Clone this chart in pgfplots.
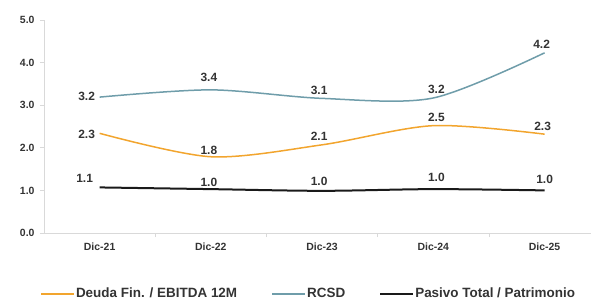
\documentclass[border=0pt]{standalone}
\usepackage{fontspec}
\setmainfont{Liberation Sans}
\usepackage{pgfplots}
\usepackage{pgfplotstable}
\pgfplotsset{compat=1.18}
\definecolor{cDeuda}{HTML}{F2A52E}
\definecolor{cRCSD}{HTML}{6F9DAA}
\definecolor{cPas}{HTML}{1A1A1A}
\definecolor{cAxis}{HTML}{D9D9D9}
\definecolor{cTxt}{HTML}{333333}

\pgfplotstableread{
x y l dx dy
0 2.34 2.3 -13 -1
1 1.79 1.8 -2 6
2 2.07 2.1 -3 8
3 2.52 2.5 3 8
4 2.32 2.3 -2 8
}\deuda
\pgfplotstableread{
x y l dx dy
0 3.19 3.2 -13 1
1 3.36 3.4 -2 12
2 3.16 3.1 -3 8
3 3.17 3.2 3 9
4 4.23 4.2 -3 8
}\rcsd
\pgfplotstableread{
x y l dx dy
0 1.07 1.1 -15 9
1 1.03 1.0 -2 7
2 0.99 1.0 -3 9
3 1.03 1.0 3 12
4 1.00 1.0 0 11
}\pasivo

\begin{document}
\begin{tikzpicture}
\useasboundingbox (-44bp,-68bp) rectangle (547bp,233bp);
\begin{axis}[
  scale only axis,
  width=547bp, height=213bp,
  xmin=-0.5, xmax=4.417, ymin=0, ymax=5,
  axis lines*=left,
  axis line style={draw=cAxis, line width=0.8bp},
  tick align=outside,
  tick style={draw=cAxis, line width=0.6bp},
  major tick length=4bp, minor tick length=4bp,
  xtick={0,1,2,3,4},
  xticklabels={Dic-21,Dic-22,Dic-23,Dic-24,Dic-25},
  x tick style={draw=none},
  minor xtick={0.5,1.5,2.5,3.5},
  minor x tick style={draw=cAxis},
  ytick={0,1,2,3,4,5},
  /pgf/number format/assume math mode=true,
  yticklabel={\pgfmathprintnumber[fixed,fixed zerofill,precision=1]{\tick}},
  ticklabel style={font=\bfseries\fontsize{10.5}{12}\selectfont, text=cTxt},
  xticklabel style={yshift=-2bp},
  yticklabel style={xshift=-2bp},
  legend columns=3,
  legend style={at={(-0.0073,-0.285)}, anchor=west, draw=none, fill=none,
    inner sep=0pt, outer sep=0pt,
    font=\bfseries\fontsize{13.5}{15}\selectfont, text=cTxt,
    nodes={inner sep=1bp},
    /tikz/every even column/.append style={column sep=33bp}},
  legend image code/.code={\draw[#1,line width=2bp] (0bp,0bp) -- (33bp,0bp);},
  lbl/.style={
    point meta=explicit symbolic,
    nodes near coords,
    visualization depends on={\thisrow{dx} \as \dx},
    visualization depends on={\thisrow{dy} \as \dy},
    nodes near coords style={font=\bfseries\fontsize{12}{14}\selectfont, text=cTxt, anchor=center, inner sep=0pt, xshift=\dx bp, yshift=\dy bp},
  },
]
\addplot[cDeuda, line width=1.5bp, smooth, tension=0.5, forget plot] table[x=x,y=y]{\deuda};
\addplot[draw=none, lbl, forget plot] table[x=x,y=y,meta=l]{\deuda};
\addlegendimage{cDeuda, line width=1.5bp}
\addlegendentry{Deuda Fin. / EBITDA 12M}
\addplot[cRCSD, line width=1.5bp, smooth, tension=0.5, forget plot] table[x=x,y=y]{\rcsd};
\addplot[draw=none, lbl, forget plot] table[x=x,y=y,meta=l]{\rcsd};
\addlegendimage{cRCSD, line width=1.5bp}
\addlegendentry{RCSD}
\addplot[cPas, line width=2bp, smooth, tension=0.5, forget plot] table[x=x,y=y]{\pasivo};
\addplot[draw=none, lbl, forget plot] table[x=x,y=y,meta=l]{\pasivo};
\addlegendimage{cPas, line width=2bp}
\addlegendentry{Pasivo Total / Patrimonio}
\end{axis}
\end{tikzpicture}
\end{document}
